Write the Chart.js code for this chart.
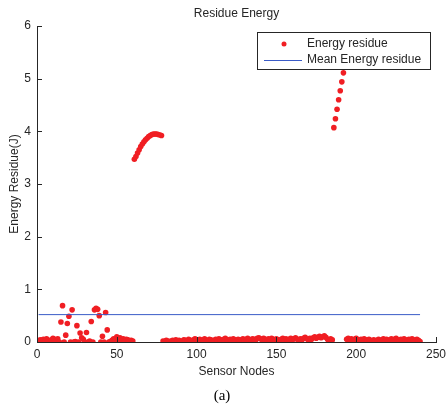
<!DOCTYPE html>
<html>
<head>
<meta charset="utf-8">
<script src="https://cdn.jsdelivr.net/npm/chart.js@4"></script>
<style>
  html, body { margin: 0; padding: 0; background: #fff; }
  #wrap { width: 446px; height: 408px; }
</style>
</head>
<body>
<div id="wrap"><canvas id="myChart" width="446" height="408"></canvas></div>
<script>
// residual energy per node (J), node 1 .. 240
const clusterStart = [
    0.02, 0.04, 0.03, 0.05, 0.02, 0.06, 0.03, 0.01, 0.04, 0.07,
    0.05, 0.02, 0.06, 0.00, 0.38, 0.69, 0.00, 0.13, 0.35, 0.49,
    0.00, 0.61, 0.00, 0.01, 0.31, 0.00, 0.17, 0.08, 0.05, 0.00,
    0.18, 0.00, 0.02, 0.39, 0.00, 0.61, 0.64, 0.62, 0.50, 0.00,
    0.11, 0.00, 0.56, 0.23, 0.00, 0.01, 0.03, 0.06, 0.04, 0.10,
    0.05, 0.08, 0.03, 0.06, 0.02, 0.05, 0.04, 0.01, 0.03, 0.02
];
const arcRise = [
    3.47, 3.52, 3.59, 3.65, 3.71, 3.76, 3.80, 3.84, 3.87, 3.90,
    3.92, 3.94, 3.95, 3.95, 3.95, 3.94, 3.93, 3.92
];
const flatMiddle = [
    0.02, 0.01, 0.03, 0.02, 0.00, 0.02, 0.03, 0.01, 0.04, 0.02,
    0.03, 0.01, 0.02, 0.04, 0.03, 0.02, 0.05, 0.03, 0.01, 0.04,
    0.06, 0.04, 0.03, 0.05, 0.02, 0.04, 0.06, 0.03, 0.02, 0.05,
    0.04, 0.01, 0.03, 0.05, 0.02, 0.06, 0.04, 0.03, 0.05, 0.07,
    0.04, 0.02, 0.05, 0.03, 0.06, 0.04, 0.02, 0.05, 0.03, 0.04,
    0.06, 0.03, 0.05, 0.07, 0.04, 0.02, 0.06, 0.05, 0.03, 0.07,
    0.08, 0.06, 0.04, 0.07, 0.05, 0.03, 0.06, 0.04, 0.07, 0.05,
    0.03, 0.06, 0.04, 0.02, 0.05, 0.07, 0.04, 0.06, 0.03, 0.05,
    0.07, 0.04, 0.06, 0.08, 0.05, 0.03, 0.06, 0.04, 0.07, 0.09,
    0.06, 0.04, 0.07, 0.05, 0.08, 0.10, 0.07, 0.09, 0.11, 0.08,
    0.10, 0.12, 0.09, 0.05, 0.03, 0.06, 0.04
];
const steepRise = [4.07, 4.24, 4.42, 4.60, 4.77, 4.94, 5.11, 5.28];
const flatEnd = [
    0.05, 0.07, 0.04, 0.06, 0.03, 0.05, 0.07, 0.04, 0.02, 0.05,
    0.03, 0.06, 0.04, 0.02, 0.05, 0.03, 0.01, 0.04, 0.02, 0.03,
    0.05, 0.02, 0.04, 0.06, 0.03, 0.05, 0.02, 0.04, 0.06, 0.03,
    0.05, 0.07, 0.04, 0.02, 0.05, 0.03, 0.06, 0.04, 0.02, 0.05,
    0.03, 0.06, 0.04, 0.02, 0.05, 0.03, 0.01
];
const meanEnergy = 0.52;
const meanSpan = [1, 240];
const xTicks = [0, 50, 100, 150, 200, 250];
const yTicks = [0, 1, 2, 3, 4, 5, 6];

const energyResidue = [].concat(clusterStart, arcRise, flatMiddle, steepRise, flatEnd);
const nodePoints = energyResidue.map((v, i) => ({ x: i + 1, y: v }));
const meanPoints = meanSpan.map(n => ({ x: n, y: meanEnergy }));

const axisColor = "#262626";
const fontFamily = "'Liberation Sans', Arial, sans-serif";
const dotColor = "#f01e23";
const meanColor = "#3a5bc7";

// title, caption, inward ticks and the boxed legend
const extras = {
    id: "extras",
    afterDatasetsDraw(chart) {
        const ctx = chart.ctx;
        const xs = chart.scales.x, ys = chart.scales.y;
        const area = chart.chartArea;
        ctx.save();
        ctx.strokeStyle = axisColor;
        ctx.lineWidth = 1;
        ctx.beginPath();
        xTicks.forEach(t => {
            const px = Math.round(xs.getPixelForValue(t)) + 0.5;
            ctx.moveTo(px, area.bottom);
            ctx.lineTo(px, area.bottom - 5);
        });
        yTicks.forEach(t => {
            const py = Math.round(ys.getPixelForValue(t)) + 0.5;
            ctx.moveTo(area.left, py);
            ctx.lineTo(area.left + 5, py);
        });
        ctx.stroke();

        ctx.fillStyle = axisColor;
        ctx.textAlign = "center";
        ctx.textBaseline = "middle";
        ctx.font = "12px " + fontFamily;
        ctx.fillText("Residue Energy", (area.left + area.right) / 2, 14);
        ctx.fillStyle = "#000";
        ctx.font = "15px 'Liberation Serif', 'Times New Roman', serif";
        ctx.fillText("(a)", 222, 396);

        // legend box
        const bx = 257.5, by = 32.5, bw = 173, bh = 37;
        ctx.fillStyle = "#fff";
        ctx.fillRect(bx, by, bw, bh);
        ctx.strokeStyle = axisColor;
        ctx.strokeRect(bx, by, bw, bh);
        ctx.font = "12px " + fontFamily;
        ctx.textAlign = "left";
        ctx.fillStyle = axisColor;
        ctx.fillText(chart.data.datasets[0].label, 307, 44);
        ctx.fillText(chart.data.datasets[1].label, 307, 60);
        ctx.fillStyle = dotColor;
        ctx.beginPath();
        ctx.arc(284, 44, 2.5, 0, Math.PI * 2);
        ctx.fill();
        ctx.strokeStyle = meanColor;
        ctx.beginPath();
        ctx.moveTo(264, 60.5);
        ctx.lineTo(302, 60.5);
        ctx.stroke();
        ctx.restore();
    }
};

new Chart("myChart", {
    type: "scatter",
    data: {
        datasets: [{
            label: "Energy residue",
            data: nodePoints,
            backgroundColor: dotColor,
            borderWidth: 0,
            pointRadius: 2.8,
            order: 1
        }, {
            label: "Mean Energy residue",
            type: "line",
            data: meanPoints,
            borderColor: meanColor,
            borderWidth: 1,
            pointRadius: 0,
            fill: false,
            order: 0
        }]
    },
    options: {
        responsive: false,
        animation: false,
        devicePixelRatio: 1,
        layout: { padding: { top: 26, right: 10, left: 0, bottom: 0 } },
        plugins: {
            legend: { display: false },
            title: { display: false },
            tooltip: { enabled: false }
        },
        scales: {
            x: {
                type: "linear",
                min: 0,
                max: 250,
                grid: { display: false, drawTicks: false },
                border: { display: true, color: axisColor, width: 1 },
                ticks: {
                    stepSize: 50,
                    maxRotation: 0,
                    autoSkip: false,
                    padding: 5,
                    color: axisColor,
                    font: { family: fontFamily, size: 12 }
                },
                title: {
                    display: true,
                    text: "Sensor Nodes",
                    color: axisColor,
                    font: { family: fontFamily, size: 12 },
                    padding: { top: 0, bottom: 29 }
                },
                afterFit: s => { s.height = 66; s.paddingLeft = 0; s.paddingRight = 0; }
            },
            y: {
                min: 0,
                max: 6,
                grid: { display: false, drawTicks: false },
                border: { display: true, color: axisColor, width: 1 },
                ticks: {
                    stepSize: 1,
                    padding: 6,
                    color: axisColor,
                    font: { family: fontFamily, size: 12 }
                },
                title: {
                    display: true,
                    text: "Energy Residue(J)",
                    color: axisColor,
                    font: { family: fontFamily, size: 12 },
                    padding: { top: 7, bottom: 0 }
                },
                afterFit: s => { s.width = 37; s.paddingTop = 0; s.paddingBottom = 0; }
            }
        }
    },
    plugins: [extras]
});
</script>
</body>
</html>
